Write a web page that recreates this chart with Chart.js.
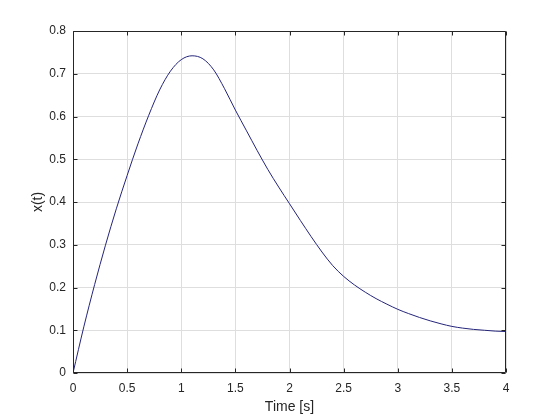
<!DOCTYPE html>
<html>
<head>
<meta charset="utf-8">
<script src="https://cdn.jsdelivr.net/npm/chart.js@4/dist/chart.umd.min.js"></script>
<style>
  html, body { margin: 0; padding: 0; background: #ffffff; }
  #c { display: block; }
</style>
</head>
<body>
<canvas id="c" width="560" height="420"></canvas>
<script>
// Time samples [s]
const timeValues = [0, 0.1, 0.2, 0.3, 0.4, 0.5, 0.6, 0.7, 0.8, 0.9,
                    1.0, 1.1, 1.2, 1.3, 1.4, 1.5, 1.6, 1.7, 1.8, 1.9,
                    2.0, 2.1, 2.2, 2.3, 2.4, 2.5, 2.6, 2.7, 2.8, 2.9,
                    3.0, 3.1, 3.2, 3.3, 3.4, 3.5, 3.6, 3.7, 3.8, 3.9, 4.0];
// x(t) values
const xValues = [0, 0.108, 0.207, 0.299, 0.384, 0.462, 0.536, 0.603, 0.662, 0.706,
                 0.733, 0.742, 0.735, 0.709, 0.665, 0.615, 0.568, 0.521, 0.476, 0.435,
                 0.396, 0.357, 0.319, 0.283, 0.251, 0.226, 0.206, 0.189, 0.174, 0.161,
                 0.149, 0.139, 0.130, 0.122, 0.115, 0.109, 0.105, 0.102, 0.100, 0.098, 0.097];
// Axis settings
const xTickStep = 0.5, xMin = 0, xMax = 4;
const yTickStep = 0.1, yMin = 0, yMax = 0.8;
const xLabel = 'Time [s]';
const yLabel = 'x(t)';

const FONT = "'Liberation Sans', Arial, Helvetica, sans-serif";
const TEXT = '#262626';

const fmt = v => String(Math.round(v * 10) / 10);

const framePlugin = {
  id: 'frame',
  afterDatasetsDraw(chart) {
    const { ctx, chartArea: { left, right, top, bottom }, scales: { x, y } } = chart;
    const L = Math.round(left) + 0.5, R = Math.round(right) - 0.5;
    const T = Math.round(top) + 0.5, B = Math.round(bottom) - 0.5;
    ctx.save();
    ctx.strokeStyle = TEXT;
    ctx.lineWidth = 1;
    ctx.beginPath();
    ctx.rect(L, T, R - L, B - T);
    const len = 4;
    x.ticks.forEach(t => {
      const px = Math.round(x.getPixelForValue(t.value)) + 0.5;
      ctx.moveTo(px, B); ctx.lineTo(px, B - len);
      ctx.moveTo(px, T); ctx.lineTo(px, T + len);
    });
    y.ticks.forEach(t => {
      const py = Math.round(y.getPixelForValue(t.value)) + 0.5;
      ctx.moveTo(L, py); ctx.lineTo(L + len, py);
      ctx.moveTo(R, py); ctx.lineTo(R - len, py);
    });
    ctx.stroke();
    ctx.restore();
  }
};

new Chart(document.getElementById('c'), {
  type: 'line',
  data: {
    datasets: [{
      data: timeValues.map((t, i) => ({ x: t, y: xValues[i] })),
      borderColor: '#24247a',
      borderWidth: 1,
      pointRadius: 0,
      cubicInterpolationMode: 'monotone',
      fill: false
    }]
  },
  options: {
    responsive: false,
    animation: false,
    devicePixelRatio: 1,
    layout: { padding: { top: 31, right: 54, left: 0, bottom: 0 } },
    plugins: { legend: { display: false }, tooltip: { enabled: false } },
    scales: {
      x: {
        type: 'linear', min: xMin, max: xMax,
        ticks: { stepSize: xTickStep, color: TEXT, font: { family: FONT, size: 12 }, padding: 8, maxRotation: 0,
                 callback: v => fmt(v) },
        grid: { color: '#dedede', lineWidth: 1, drawTicks: false },
        border: { display: false },
        title: { display: true, text: xLabel, color: TEXT, font: { family: FONT, size: 14 }, padding: { top: 0, bottom: 4 } },
        afterFit(s) { s.height = 47; }
      },
      y: {
        type: 'linear', min: yMin, max: yMax,
        ticks: { stepSize: yTickStep, color: TEXT, font: { family: FONT, size: 12 }, padding: 7,
                 callback: v => fmt(v) },
        grid: { color: '#dedede', lineWidth: 1, drawTicks: false },
        border: { display: false },
        title: { display: true, text: yLabel, color: TEXT, font: { family: FONT, size: 14 }, padding: { top: 30, bottom: 0 } },
        afterFit(s) { s.width = 73; }
      }
    }
  },
  plugins: [framePlugin]
});
</script>
</body>
</html>
